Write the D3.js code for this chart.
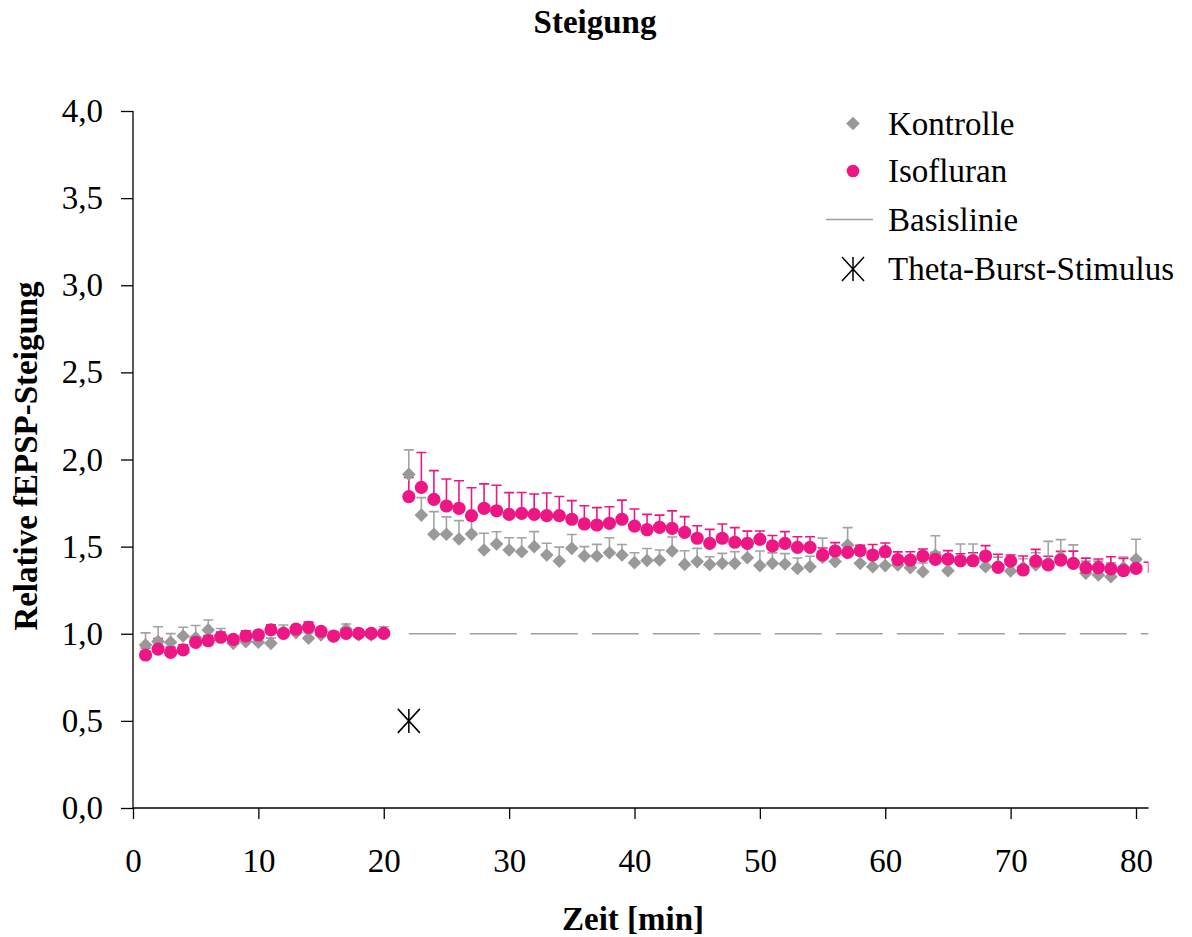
<!DOCTYPE html>
<html>
<head>
<meta charset="utf-8">
<script src="https://cdn.jsdelivr.net/npm/d3@7"></script>
<style>
  html, body { margin: 0; padding: 0; background: #fff; }
  svg { display: block; }
  text { font-family: "Liberation Serif", "Times New Roman", serif; fill: #000; }
</style>
</head>
<body>
<svg id="chart" width="1192" height="937"></svg>
<script>
// Time points (min) of the recordings
const zeit = [1,2,3,4,5,6,7,8,9,10,11,12,13,14,15,16,17,18,19,20,
  22,23,24,25,26,27,28,29,30,31,32,33,34,35,36,37,38,39,40,41,42,43,44,45,46,47,48,49,50,
  51,52,53,54,55,56,57,58,59,60,61,62,63,64,65,66,67,68,69,70,71,72,73,74,75,76,77,78,79,80,81];

// Relative fEPSP slope, control group (mean and upper error)
const kontrolle = [0.935,0.955,0.951,0.987,0.977,1.022,0.99,0.945,0.955,0.951,0.945,1.01,1.006,0.974,0.993,0.983,1.026,0.993,0.993,1.01,
  1.915,1.681,1.571,1.571,1.544,1.572,1.481,1.515,1.481,1.471,1.500,1.452,1.417,1.490,1.446,1.446,1.465,1.452,1.408,1.421,1.423,1.475,1.398,1.414,1.398,1.404,1.404,1.436,1.391,
  1.404,1.400,1.375,1.385,1.439,1.414,1.509,1.404,1.385,1.391,1.395,1.379,1.356,1.452,1.362,1.42,1.43,1.385,1.39,1.36,1.38,1.395,1.41,1.44,1.41,1.347,1.337,1.327,1.38,1.427,null];
const kontrolleFehler = [0.07,0.085,0.05,0.05,0.07,0.057,0.04,0.03,0.03,0.03,0.03,0.04,0.03,0.03,0.03,0.03,0.03,0.03,0.03,0.03,
  0.14,0.10,0.13,0.10,0.105,0.10,0.096,0.07,0.07,0.08,0.086,0.067,0.08,0.08,0.054,0.067,0.086,0.06,0.057,0.068,0.058,0.08,0.078,0.076,0.044,0.057,0.067,0.06,0.084,
  0.06,0.06,0.06,0.06,0.11,0.05,0.10,0.05,0.05,0.05,0.05,0.04,0.05,0.11,0.05,0.095,0.085,0.05,0.05,0.05,0.05,0.07,0.12,0.10,0.10,0.07,0.08,0.08,0.06,0.115,null];

// Relative fEPSP slope, isoflurane group (mean and upper error)
const isofluran = [0.878,0.912,0.893,0.907,0.951,0.960,0.980,0.968,0.987,0.993,1.022,1.002,1.027,1.037,1.014,0.987,1.002,1.002,1.002,1.002,
  1.787,1.840,1.771,1.733,1.720,1.678,1.720,1.706,1.685,1.691,1.685,1.678,1.678,1.657,1.630,1.624,1.634,1.657,1.618,1.597,1.611,1.605,1.582,1.548,1.519,1.548,1.525,1.519,1.542,
  1.504,1.519,1.496,1.496,1.452,1.475,1.467,1.477,1.452,1.471,1.425,1.423,1.446,1.427,1.429,1.419,1.419,1.446,1.381,1.417,1.366,1.417,1.395,1.423,1.404,1.379,1.379,1.372,1.362,1.375,1.35];
const isofluranFehler = [0.04,0.06,0.03,0.03,0.03,0.03,0.03,0.02,0.03,0.02,0.03,0.02,0.02,0.03,0.02,0.02,0.02,0.02,0.02,0.02,
  0.11,0.20,0.165,0.155,0.158,0.16,0.14,0.146,0.125,0.12,0.117,0.13,0.11,0.107,0.105,0.10,0.095,0.11,0.098,0.088,0.07,0.10,0.09,0.072,0.08,0.082,0.084,0.07,0.048,
  0.06,0.067,0.061,0.061,0.04,0.048,0.04,0.03,0.06,0.05,0.045,0.048,0.04,0.04,0.048,0.04,0.046,0.06,0.075,0.035,0.08,0.067,0.05,0.05,0.07,0.055,0.05,0.07,0.07,0.06,0.06];

// Baseline and stimulus
const basislinieWert = 1.0;
const basislinieZeit = [22, 81];
const stimulusZeit = 22;
const stimulusWert = 0.5;

const xTicks = [0,10,20,30,40,50,60,70,80];
const yTicks = [0,0.5,1,1.5,2,2.5,3,3.5,4];

const titel = "Steigung";
const xTitel = "Zeit [min]";
const yTitel = "Relative fEPSP-Steigung";
const legende = ["Kontrolle", "Isofluran", "Basislinie", "Theta-Burst-Stimulus"];

const PINK = "#EE1585";
const GRAU = "#999999";
const GRAU_FEHLER = "#A3A3A3";
const LINIE = "#A0A0A0";

const svg = d3.select("#chart");

const x = d3.scaleLinear().domain([0, 81]).range([133, 133 + 81 * 12.5375]);
const y = d3.scaleLinear().domain([0, 4]).range([808, 111]);
const xMaxMarker = 80;

svg.append("defs").append("clipPath").attr("id", "plotClip")
  .append("rect")
  .attr("x", x(0)).attr("y", y(4) - 20)
  .attr("width", x(81) - x(0)).attr("height", y(0) - y(4) + 20);

const fmt = v => d3.format(".1f")(v).replace(".", ",");

// Axes
const xAxis = svg.append("g")
  .attr("transform", `translate(0,${y(0)})`)
  .call(d3.axisBottom(x).tickValues(xTicks).tickSize(11).tickPadding(30).tickFormat(d3.format("d")));
const yAxis = svg.append("g")
  .attr("transform", `translate(${x(0)},0)`)
  .call(d3.axisLeft(y).tickValues(yTicks).tickSize(12).tickPadding(18).tickFormat(fmt));

[xAxis, yAxis].forEach(a => {
  a.select(".domain").attr("stroke", "#000").attr("stroke-width", 1.3)
    .attr("d", a === xAxis ? `M${x(0)},0H${x(81)}` : `M0,${y(0)}V${y(4)}`);
  a.selectAll(".tick line").attr("stroke", "#000").attr("stroke-width", 1.3);
  a.selectAll(".tick text").style("font-family", "'Liberation Serif', serif").style("font-size", "33px").attr("fill", "#000");
});

// Titles
svg.append("text").attr("x", 595).attr("y", 33).attr("text-anchor", "middle")
  .style("font-size", "33px").style("font-weight", "bold").text(titel);
svg.append("text").attr("x", 633).attr("y", 930).attr("text-anchor", "middle")
  .style("font-size", "33px").style("font-weight", "bold").text(xTitel);
svg.append("text").attr("transform", "translate(37,456) rotate(-90)").attr("text-anchor", "middle")
  .style("font-size", "33px").style("font-weight", "bold").text(yTitel);

const plot = svg.append("g").attr("clip-path", "url(#plotClip)");

// Baseline (dashed)
plot.append("line")
  .attr("x1", x(basislinieZeit[0])).attr("x2", x(basislinieZeit[1]))
  .attr("y1", y(basislinieWert)).attr("y2", y(basislinieWert))
  .attr("stroke", LINIE).attr("stroke-width", 1.5).attr("stroke-dasharray", "47,14");

function series(werte, fehler) {
  return zeit.map((t, i) => ({ t, v: werte[i], e: fehler[i] })).filter(d => d.v != null);
}
const kData = series(kontrolle, kontrolleFehler);
const iData = series(isofluran, isofluranFehler);

function fehlerbalken(data, color) {
  const g = plot.append("g").attr("stroke", color).attr("stroke-width", 1.6).attr("fill", "none");
  g.selectAll("path").data(data).join("path")
    .attr("d", d => {
      const cx = x(d.t), y0 = y(d.v), y1 = y(d.v + d.e);
      return `M${cx},${y0}V${y1}M${cx - 5},${y1}H${cx + 5}`;
    });
}
fehlerbalken(kData, GRAU_FEHLER);
fehlerbalken(iData, PINK);

const r = 6.8;
const diamond = `M0,${-r}L${r},0L0,${r}L${-r},0Z`;

plot.append("g").selectAll("path").data(kData.filter(d => d.t <= xMaxMarker)).join("path")
  .attr("d", diamond).attr("fill", GRAU)
  .attr("transform", d => `translate(${x(d.t)},${y(d.v)})`);

plot.append("g").selectAll("circle").data(iData.filter(d => d.t <= xMaxMarker)).join("circle")
  .attr("cx", d => x(d.t)).attr("cy", d => y(d.v)).attr("r", 6.6).attr("fill", PINK);

// Stimulus marker (asterisk-like)
function stern(g, cx, cy, w, h) {
  g.append("path")
    .attr("d", `M${cx - w / 2},${cy - h / 2}L${cx + w / 2},${cy + h / 2}M${cx + w / 2},${cy - h / 2}L${cx - w / 2},${cy + h / 2}M${cx},${cy - h / 2}V${cy + h / 2}`)
    .attr("stroke", "#000").attr("stroke-width", 1.5).attr("fill", "none");
}
stern(svg, x(stimulusZeit), y(stimulusWert), 22, 24);

// Legend
const lg = svg.append("g");
const lx = 853, tx = 888;
const rows = [123.5, 171, 219.5, 269];
lg.append("path").attr("d", diamond).attr("fill", GRAU).attr("transform", `translate(${lx},${rows[0]})`);
lg.append("circle").attr("cx", lx).attr("cy", rows[1]).attr("r", 6.3).attr("fill", PINK);
lg.append("line").attr("x1", 826).attr("x2", 873).attr("y1", rows[2]).attr("y2", rows[2])
  .attr("stroke", LINIE).attr("stroke-width", 1.5);
stern(lg, lx, rows[3], 22, 24);
legende.forEach((s, i) => {
  lg.append("text").attr("x", tx).attr("y", rows[i] + 11).style("font-size", "33px").text(s);
});
</script>
</body>
</html>
